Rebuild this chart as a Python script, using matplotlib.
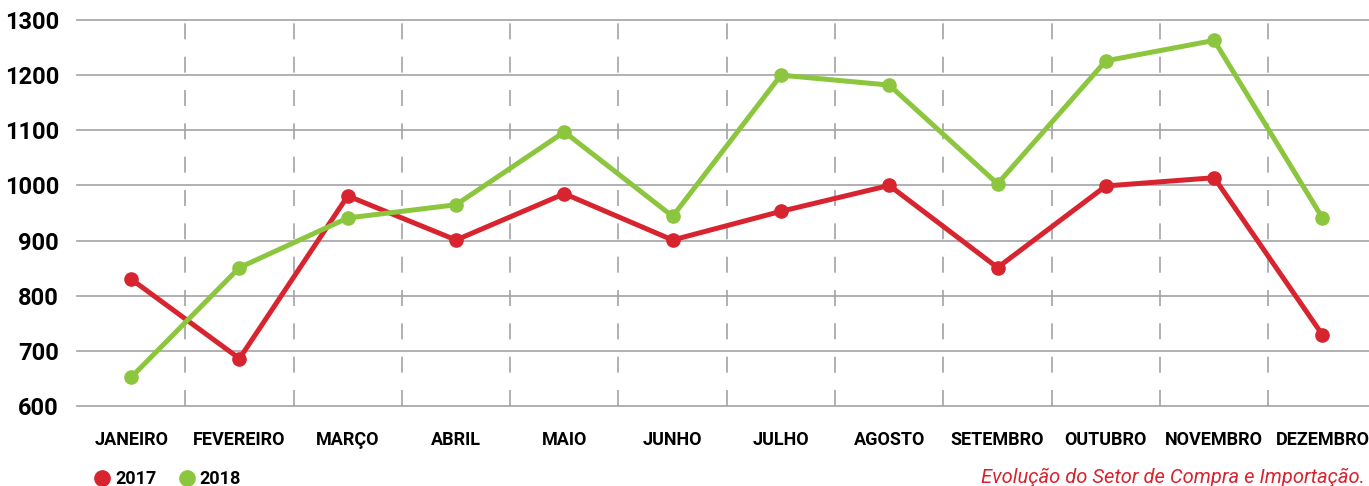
import matplotlib
matplotlib.use('Agg')
import matplotlib.pyplot as plt
from matplotlib.lines import Line2D

plt.rcParams['font.family'] = ['Roboto', 'DejaVu Sans']
plt.rcParams['lines.scale_dashes'] = False

# monthly figures
months = ['JANEIRO', 'FEVEREIRO', 'MARÇO', 'ABRIL', 'MAIO', 'JUNHO',
          'JULHO', 'AGOSTO', 'SETEMBRO', 'OUTUBRO', 'NOVEMBRO', 'DEZEMBRO']
values_2017 = [830, 686, 981, 901, 985, 901, 953, 1000, 851, 999, 1014, 729]
values_2018 = [652, 851, 941, 965, 1097, 944, 1200, 1182, 1003, 1226, 1263, 941]
yticks = [600, 700, 800, 900, 1000, 1100, 1200, 1300]

red = '#d7242f'
green = '#8cc63e'
grid = '#a3a3a5'

fig = plt.figure(figsize=(13.69, 4.86), dpi=100)
ax = fig.add_axes([77 / 1369, 1 - 406 / 486, 12 * 108.3 / 1369, 386 / 486])

x = list(range(len(months)))

# grid: solid horizontal lines, dashed separators between months
for y in yticks:
    ax.axhline(y, color=grid, lw=1.2, zorder=0, clip_on=False)
ax.vlines([i + 0.5 for i in x[:-1]], 600, 1300, colors=grid, lw=1.2,
          linestyles=(0, (11.5, 12.5)), zorder=0)

ax.plot(x, values_2017, color=red, lw=3.6, marker='o', ms=9.5, zorder=3,
        solid_joinstyle='round')
ax.plot(x, values_2018, color=green, lw=3.6, marker='o', ms=9.5, zorder=3,
        solid_joinstyle='round')

ax.set_xlim(-0.5, 11.5)
ax.set_ylim(600, 1300)
ax.set_xticks(x)
ax.set_xticklabels(months, fontsize=13, fontweight='bold')
ax.set_yticks(yticks)
ax.set_yticklabels([str(v) for v in yticks], fontsize=17, fontweight='bold')
ax.tick_params(axis='x', length=0, pad=18)
ax.tick_params(axis='y', length=0, pad=13)
for s in ax.spines.values():
    s.set_visible(False)

# legend at bottom left
handles = [Line2D([], [], ls='', marker='o', ms=11, color=red),
           Line2D([], [], ls='', marker='o', ms=11, color=green)]
leg = fig.legend(handles, ['2017', '2018'], loc='center left',
                 bbox_to_anchor=(88 / 1369, 1 - 479 / 486), ncol=2, frameon=False,
                 prop={'size': 13, 'weight': 'bold'}, handlelength=0.6,
                 handletextpad=0.4, columnspacing=1.4, borderpad=0)

fig.text(1365 / 1369, 1 - 477 / 486, 'Evolução do Setor de Compra e Importação.',
         ha='right', va='center', color=red, fontsize=14.5, style='italic')

fig.savefig('out.png', dpi=100)
